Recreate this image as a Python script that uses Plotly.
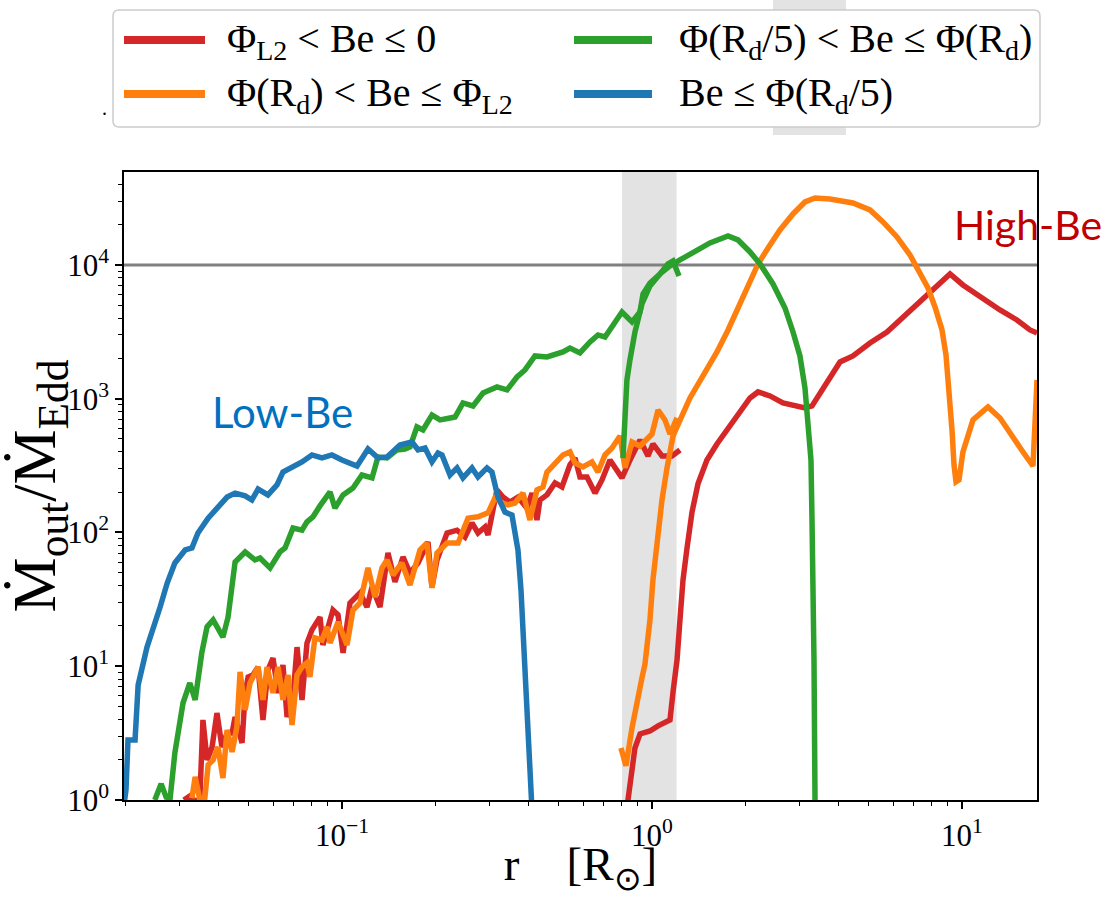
import plotly.graph_objects as go

# ---------------- data ----------------
# Be <= Phi(Rd/5)  (blue)
blue_r = [0.0199, 0.0201, 0.0204, 0.0215, 0.0220, 0.0235, 0.0259, 0.0273, 0.0289, 0.0312,
          0.0328, 0.0343, 0.0370, 0.0398, 0.0426, 0.0452, 0.0487, 0.0512, 0.0536, 0.0577,
          0.0617, 0.0645, 0.0695, 0.0743, 0.0800, 0.0862, 0.0928, 0.100, 0.1118, 0.1213,
          0.1306, 0.1397, 0.1538, 0.1682, 0.1759, 0.1853, 0.1951, 0.2040, 0.2102, 0.2231,
          0.2350, 0.2456, 0.2626, 0.2746, 0.2936, 0.3046, 0.3185, 0.3356, 0.3534, 0.3614,
          0.3695, 0.3779, 0.3864, 0.3981, 0.4070, 0.4131]
blue_m = [1.0, 1.19, 2.81, 2.81, 7.24, 13.9, 27.7, 41.9, 59.2, 74.0,
          76.6, 99.1, 128, 152, 184, 197, 188, 175, 211, 191,
          227, 283, 309, 337, 380, 361, 380, 348, 314, 421,
          361, 367, 451, 475, 414, 428, 337, 393, 380, 269,
          304, 256, 304, 260, 304, 283, 184, 142, 135, 99.1,
          74.0, 37.2, 13.2, 3.34, 1.0, 0.6]

# Phi(Rd/5) < Be <= Phi(Rd)  (green), inner and outer runs
green_in_r = [0.0249, 0.0261, 0.0271, 0.0279, 0.0289, 0.0307, 0.0323, 0.0336, 0.0353, 0.0367,
              0.0384, 0.0413, 0.0429, 0.0452, 0.0487, 0.0524, 0.0544, 0.0586, 0.0631, 0.0655,
              0.0695, 0.0743, 0.0771, 0.0806, 0.0849, 0.0915, 0.0949, 0.1008, 0.1085, 0.1160,
              0.1250, 0.1306, 0.1397, 0.1504, 0.1596, 0.1657, 0.1745, 0.1825, 0.1951, 0.2071,
              0.2231, 0.2316, 0.2456, 0.2646, 0.2850, 0.3161, 0.3406, 0.3668, 0.3893, 0.4193,
              0.4583, 0.4866, 0.5162, 0.5437, 0.5856, 0.6310, 0.6697, 0.7053, 0.7483, 0.8001,
              0.8620, 0.9147, 0.9354, 0.9852, 1.061, 1.126, 1.169, 1.222]
green_in_m = [1.0, 1.32, 1.05, 1.03, 2.25, 5.31, 7.50, 5.60, 12.6, 19.7,
              22.2, 16.5, 23.3, 60.2, 71.5, 62.3, 64.5, 54.3, 71.5, 76.6,
              108, 104, 120, 131, 158, 201, 152, 191, 215, 269,
              256, 367, 361, 414, 421, 436, 615, 584, 756, 694,
              718, 730, 930, 883, 1104, 1224, 1163, 1454, 1641, 2088,
              2051, 2124, 2237, 2395, 2199, 2657, 2997, 2894, 3560, 4453,
              3749, 4453, 6071, 7336, 8566, 10175, 10714, 8277]
green_out_r = [0.806, 0.818, 0.830, 0.849, 0.881, 0.928, 0.985, 1.061, 1.143, 1.231,
               1.356, 1.538, 1.759, 1.894, 2.071, 2.231, 2.456, 2.685, 2.850, 3.001,
               3.115, 3.185, 3.257, 3.282, 3.306, 3.331, 3.356, 3.37]
green_out_m = [360, 914, 1381, 1949, 3156, 5110, 6968, 8566, 9832, 10900,
               12510, 14606, 16480, 15380, 12510, 10175, 7211, 4768, 3156, 2088,
               1203, 694, 348, 124, 44.2, 11.1, 1.0, 0.4]

# Phi_L2 < Be <= 0  (red), inner and outer runs
red_in_r = [0.0309, 0.0323, 0.0341, 0.0348, 0.0356, 0.0367, 0.0381, 0.0395, 0.0410, 0.0426,
            0.0442, 0.0452, 0.0476, 0.0487, 0.0498, 0.0516, 0.0536, 0.0556, 0.0577, 0.0599,
            0.0622, 0.0645, 0.0665, 0.0695, 0.0716, 0.0743, 0.0771, 0.0800, 0.0849, 0.0868,
            0.0935, 0.0971, 0.1008, 0.1061, 0.1143, 0.1204, 0.1250, 0.1326, 0.1407, 0.1482,
            0.1573, 0.1657, 0.1759, 0.1894, 0.1951, 0.2025, 0.2182, 0.2350, 0.2493, 0.2626,
            0.2746, 0.2893, 0.2958, 0.3161, 0.3306, 0.3482, 0.3695, 0.3951, 0.4101, 0.4256,
            0.4351, 0.4583, 0.4866, 0.5124, 0.5437, 0.5643, 0.5856, 0.6169, 0.6549, 0.6897,
            0.7318, 0.8001, 0.8492, 0.9147, 0.9708, 1.007, 1.077, 1.160, 1.231]
red_in_m = [1.0, 1.07, 0.95, 1.05, 3.97, 1.99, 2.49, 4.47, 2.49, 3.17,
            3.17, 4.17, 2.67, 6.31, 8.31, 8.60, 9.87, 3.97, 9.38, 11.5,
            6.31, 10.2, 4.17, 5.89, 13.9, 5.60, 14.9, 18.7, 23.3, 14.4,
            26.3, 24.2, 12.6, 29.7, 35.3, 27.7, 39.1, 27.7, 70.3, 42.7,
            65.6, 49.8, 59.2, 84.9, 39.1, 62.3, 99.1, 104, 92.5, 118,
            99.1, 110, 95.8, 208, 184, 169, 184, 152, 197, 124,
            175, 191, 235, 219, 320, 361, 260, 260, 197, 247,
            348, 256, 348, 492, 373, 459, 373, 373, 414]
red_out_r = [0.824, 0.849, 0.881, 0.915, 0.985, 1.046, 1.101, 1.143, 1.169, 1.204,
             1.231, 1.259, 1.297, 1.346, 1.407, 1.504, 1.620, 1.759, 1.922, 2.071,
             2.198, 2.402, 2.645, 2.893, 3.115, 3.282, 3.482, 3.751, 4.040, 4.449,
             5.048, 5.727, 6.647, 7.709, 8.492, 9.147, 10.07, 11.43, 13.26, 15.04,
             16.57, 17.46]
red_out_m = [0.77, 1.41, 2.45, 3.12, 3.28, 3.58, 3.83, 3.97, 6.42, 11.1,
             22.2, 44.2, 76.6, 142, 231, 348, 459, 604, 796, 1013,
             1124, 1049, 930, 883, 853, 883, 1104, 1480, 1883, 2088,
             2612, 3156, 4377, 5966, 7464, 8566, 7088, 5762, 4609, 3880,
             3266, 3102]

# Phi(Rd) < Be <= Phi_L2  (orange), inner and outer runs
orange_in_r = [0.0328, 0.0336, 0.0348, 0.0361, 0.0370, 0.0384, 0.0398, 0.0413, 0.0426, 0.0442,
               0.0458, 0.0469, 0.0487, 0.0505, 0.0536, 0.0556, 0.0573, 0.0599, 0.0622, 0.0645,
               0.0670, 0.0690, 0.0716, 0.0743, 0.0771, 0.0788, 0.0818, 0.0862, 0.0895, 0.0915,
               0.0971, 0.1038, 0.1085, 0.1143, 0.1213, 0.1278, 0.1346, 0.1397, 0.1460, 0.1561,
               0.1657, 0.1785, 0.1880, 0.1951, 0.2025, 0.2182, 0.2368, 0.2549, 0.2746, 0.2958,
               0.3115, 0.3281, 0.3431, 0.3614, 0.3836, 0.4040, 0.4256, 0.4449, 0.4583, 0.4866,
               0.5162, 0.5437, 0.5643, 0.5988, 0.6405, 0.6697, 0.7053, 0.7428, 0.7883, 0.8182,
               0.8620, 0.9147, 1.000, 1.046, 1.101, 1.143, 1.204]
orange_in_m = [1.03, 1.49, 1.0, 1.03, 1.83, 1.99, 2.49, 1.46, 3.34, 2.29,
               3.51, 9.06, 4.71, 7.50, 9.87, 5.60, 9.87, 6.31, 9.87, 5.60,
               8.60, 3.64, 8.60, 9.87, 10.6, 8.31, 16.3, 15.7, 19.7, 14.9,
               21.4, 14.4, 26.3, 29.7, 54.3, 32.9, 54.3, 62.3, 48.1, 59.2,
               40.5, 74.0, 83.5, 38.5, 70.3, 83.5, 83.5, 128, 131, 140,
               181, 166, 161, 166, 197, 124, 208, 219, 283, 331,
               380, 400, 331, 309, 337, 283, 380, 428, 527, 304,
               475, 443, 545, 824, 694, 545, 718]
orange_out_r = [0.794, 0.824, 0.862, 0.895, 0.928, 0.949, 0.985, 1.007, 1.038, 1.077,
                1.118, 1.169, 1.249, 1.326, 1.460, 1.620, 1.759, 1.894, 2.040, 2.198,
                2.368, 2.587, 2.850, 3.115, 3.356, 3.751, 4.449, 5.048, 5.560, 6.169,
                6.795, 7.318, 7.767, 8.182, 8.620, 8.879, 9.080, 9.284, 9.423, 9.564,
                9.780, 10.07, 10.85, 12.13, 13.26, 14.60, 15.73, 16.94, 17.46]
orange_out_m = [2.45, 1.80, 3.45, 5.60, 8.17, 10.4, 22.2, 44.2, 87.9, 175,
                304, 527, 743, 1013, 1480, 2237, 3266, 4768, 7211, 10175,
                13396, 18270, 24066, 29585, 31678, 31133, 29080, 25780, 20967, 16187,
                11879, 8866, 6728, 4850, 3266, 2124, 1163, 584, 320, 239,
                247, 400, 694, 867, 718, 527, 400, 314, 1381]

x_tick_vals = [0.1, 1, 10]
x_tick_text = ["10<sup>\u22121</sup>", "10<sup>0</sup>", "10<sup>1</sup>"]
y_tick_vals = [1, 10, 100, 1000, 10000]
y_tick_text = ["10<sup>0</sup>", "10<sup>1</sup>", "10<sup>2</sup>", "10<sup>3</sup>", "10<sup>4</sup>"]
x_minor = [k * 10.0 ** e for e in (-2, -1, 0) for k in range(2, 10)]
y_minor = [k * 10.0 ** e for e in (0, 1, 2, 3, 4) for k in range(2, 10)]

band_lo, band_hi = 0.8, 1.2
hline_value = 1e4

names = {
    "red": "\u03a6<sub>L2</sub> &lt; Be \u2264 0",
    "green": "\u03a6(R<sub>d</sub>/5) &lt; Be \u2264 \u03a6(R<sub>d</sub>)",
    "orange": "\u03a6(R<sub>d</sub>) &lt; Be \u2264 \u03a6<sub>L2</sub>",
    "blue": "Be \u2264 \u03a6(R<sub>d</sub>/5)",
}
colors = {"red": "#d62728", "green": "#2ca02c", "orange": "#ff7f0e", "blue": "#1f77b4"}

SERIF = "Liberation Serif"
SANS = "Lato"
LW = 5.5

fig = go.Figure()


def add(r, m, key):
    fig.add_trace(go.Scatter(
        x=r, y=m, mode="lines", name=names[key], legendgroup=key, showlegend=False,
        line=dict(color=colors[key], width=LW),
    ))


add(red_in_r, red_in_m, "red")
add(red_out_r, red_out_m, "red")
add(orange_in_r, orange_in_m, "orange")
add(orange_out_r, orange_out_m, "orange")
add(green_in_r, green_in_m, "green")
add(green_out_r, green_out_m, "green")
add(blue_r, blue_m, "blue")

axis_common = dict(
    type="log", showgrid=False, zeroline=False,
    showline=True, linecolor="black", linewidth=1.5, mirror=True,
    ticks="outside", ticklen=7, tickwidth=1.5, tickcolor="black",
    tickfont=dict(family=SERIF, size=31, color="black"),
    automargin=False,
)

# ---- legend (drawn as a framed key above the axes, in paper units) ----
bx0, bx1, by0, by1 = -0.01205, 1.00329, 1.0717, 1.2580
rx, ry = 0.0066, 0.0096
box_path = (f"M {bx0+rx},{by1} L {bx1-rx},{by1} Q {bx1},{by1} {bx1},{by1-ry} "
            f"L {bx1},{by0+ry} Q {bx1},{by0} {bx1-rx},{by0} L {bx0+rx},{by0} "
            f"Q {bx0},{by0} {bx0},{by0+ry} L {bx0},{by1-ry} Q {bx0},{by1} {bx0+rx},{by1} Z")

legend_layout = [  # key, line x0, line x1, line y, text x, text y
    ("red", 0.0, 0.0887, 1.2102, 0.1106, 1.2086),
    ("orange", 0.0, 0.0887, 1.1242, 0.1106, 1.1226),
    ("green", 0.4929, 0.5783, 1.2102, 0.6057, 1.2086),
    ("blue", 0.4929, 0.5783, 1.1242, 0.6057, 1.1226),
]

shapes = [
    dict(type="rect", xref="x", yref="paper", x0=band_lo, x1=band_hi, y0=0, y1=1,
         fillcolor="#e3e3e3", line=dict(width=0), layer="below"),
    dict(type="line", xref="paper", yref="y", x0=0, x1=1, y0=hline_value, y1=hline_value,
         line=dict(color="#808080", width=3), layer="below"),
    dict(type="rect", xref="paper", yref="paper", x0=0.7108, x1=0.7908, y0=1.059, y1=1.274,
         fillcolor="#e3e3e3", line=dict(width=0), layer="below"),
    dict(type="path", xref="paper", yref="paper", path=box_path,
         fillcolor="white", line=dict(color="#cccccc", width=1.5), layer="below"),
]
annotations = [
    dict(text="Low-Be", xref="paper", yref="paper", x=0.174, y=0.618,
         xanchor="center", yanchor="middle",
         showarrow=False, font=dict(family=SANS, size=42, color="#0070C0")),
    dict(text="High-Be", xref="paper", yref="paper", x=0.9069, y=0.916,
         xanchor="left", yanchor="middle",
         showarrow=False, font=dict(family=SANS, size=41, color="#C00000")),
    dict(text=".", xref="paper", yref="paper", x=-0.026, y=1.102,
         xanchor="left", yanchor="middle",
         showarrow=False, font=dict(family=SERIF, size=20, color="black")),
]
for key, lx0, lx1, ly, tx, ty in legend_layout:
    shapes.append(dict(type="line", xref="paper", yref="paper", x0=lx0, x1=lx1, y0=ly, y1=ly,
                       line=dict(color=colors[key], width=8)))
    annotations.append(dict(text=names[key], xref="paper", yref="paper", x=tx, y=ty,
                            xanchor="left", yanchor="middle", showarrow=False,
                            font=dict(family=SERIF, size=40, color="black")))

fig.update_layout(
    width=1103, height=897,
    margin=dict(l=124, r=66, t=172, b=97),
    paper_bgcolor="white", plot_bgcolor="white",
    showlegend=False,
    xaxis=dict(
        **axis_common,
        range=[-1.7032, 1.2419],
        tickmode="array", tickvals=x_tick_vals, ticktext=x_tick_text,
        minor=dict(tickmode="array", tickvals=x_minor, ticks="outside", ticklen=4,
                   tickwidth=1, tickcolor="black", showgrid=False),
        title=dict(text="r\u2003[R<sub>\u2299</sub>]",
                   font=dict(family=SERIF, size=47, color="black"), standoff=6),
    ),
    yaxis=dict(
        **axis_common,
        range=[0, 4.695],
        tickmode="array", tickvals=y_tick_vals, ticktext=y_tick_text,
        minor=dict(tickmode="array", tickvals=y_minor, ticks="outside", ticklen=4,
                   tickwidth=1, tickcolor="black", showgrid=False),
        title=dict(text="\u1e40<sub>out</sub>/\u1e40<sub>Edd</sub>",
                   font=dict(family=SERIF, size=62, color="black"), standoff=2),
    ),
    shapes=shapes,
    annotations=annotations,
)

fig.write_html("out.html")
